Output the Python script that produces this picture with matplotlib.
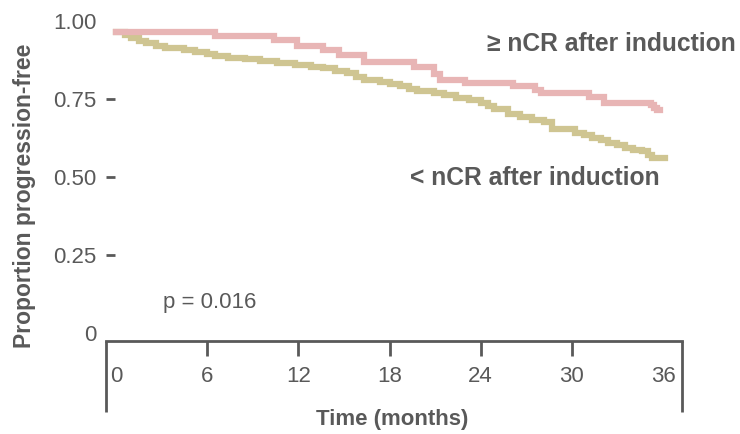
import matplotlib.pyplot as plt
from matplotlib.ticker import FixedLocator

plt.rcParams['font.family'] = ['Liberation Sans', 'DejaVu Sans']

# ---------- Kaplan-Meier step data (months, proportion progression-free) ----------
ncr_months = [0, 6.5, 10.4, 11.9, 13.6, 14.7, 16.3, 19.6, 20.9, 21.3, 23.0, 26.1,
              27.6, 28.0, 31.1, 32.1, 35.2, 35.4, 35.6, 35.8]
ncr_pfs = [0.963, 0.950, 0.938, 0.920, 0.906, 0.890, 0.867, 0.851, 0.829, 0.810, 0.802, 0.791,
           0.778, 0.768, 0.756, 0.737, 0.730, 0.722, 0.714, 0.714]

lt_months = [0, 0.6, 1.0, 1.5, 2.0, 2.6, 3.2, 4.5, 5.2, 6.0, 6.5, 7.4, 8.5, 9.5, 10.6, 11.8,
             12.8, 13.6, 14.4, 15.2, 15.8, 16.3, 17.4, 18.0, 18.7, 19.3, 19.8, 20.9, 21.6,
             22.4, 23.2, 24.0, 24.5, 24.9, 25.8, 26.6, 27.4, 28.2, 28.7, 30.2, 30.8, 31.3,
             31.9, 32.4, 33.0, 33.5, 34.0, 34.6, 35.0, 35.3, 36.1]
lt_pfs = [0.963, 0.955, 0.945, 0.935, 0.928, 0.918, 0.912, 0.907, 0.900, 0.892, 0.887, 0.882,
          0.877, 0.870, 0.865, 0.858, 0.853, 0.848, 0.840, 0.832, 0.820, 0.810, 0.805, 0.798,
          0.791, 0.783, 0.775, 0.768, 0.761, 0.754, 0.745, 0.736, 0.727, 0.718, 0.702, 0.692,
          0.683, 0.676, 0.653, 0.642, 0.634, 0.626, 0.618, 0.610, 0.602, 0.594, 0.588, 0.583,
          0.572, 0.562, 0.561]

x_ticks = [0, 6, 12, 18, 24, 30, 36]
y_ticks = [0, 0.25, 0.50, 0.75, 1.00]
y_tick_labels = ['0', '0.25', '0.50', '0.75', '1.00']

grey = '#595959'
pink = '#E8B5B5'
olive = '#CFC592'

fig = plt.figure(figsize=(7.4, 4.34), dpi=100)
ax = fig.add_axes([106 / 740, 93 / 434, 576 / 740, 331 / 434])

ax.step(lt_months, lt_pfs, where='post', color=olive, lw=4.5, solid_joinstyle='miter')
ax.step(ncr_months, ncr_pfs, where='post', color=pink, lw=4.5, solid_joinstyle='miter')

ax.set_xlim(-0.66, 37.25)
ax.set_ylim(-0.024, 1.034)

# ---------- Spines and ticks ------------------------------------------------------------
for side in ['top', 'right', 'left']:
    ax.spines[side].set_visible(False)
ax.spines['bottom'].set_color(grey)
ax.spines['bottom'].set_linewidth(2)

# end bars hanging below the time axis
for xa in [0, 1]:
    ax.plot([xa, xa], [0, -0.215], transform=ax.transAxes, color=grey, lw=2,
            clip_on=False, solid_capstyle='butt')

# labels on the major ticks, marks on the minor ones (kept even where they coincide)
ax.xaxis.remove_overlapping_locs = False
ax.yaxis.remove_overlapping_locs = False

ax.set_xticks(x_ticks)
ax.set_xticklabels([str(t) for t in x_ticks])
ax.xaxis.set_minor_locator(FixedLocator(x_ticks[1:-1]))
ax.tick_params(axis='x', which='major', length=0, pad=18, labelsize=16, labelcolor=grey)
ax.tick_params(axis='x', which='minor', length=11, width=2, color=grey, direction='out')

ax.set_yticks(y_ticks)
ax.set_yticklabels(y_tick_labels)
ax.yaxis.set_minor_locator(FixedLocator([0.25, 0.50, 0.75]))
ax.tick_params(axis='y', which='major', length=0, pad=7, labelsize=16, labelcolor=grey)
ax.tick_params(axis='y', which='minor', length=6.5, width=2, color=grey, direction='in')

# ---------- Labels ------------------------------------------------------------------------
fig.text(25 / 740, 1 - 196 / 434, 'Proportion progression-free', rotation=90,
         ha='center', va='center', fontsize=16.5, fontweight='bold', color=grey)
fig.text(392 / 740, 1 - 420 / 434, 'Time (months)', ha='center', va='center',
         fontsize=16, fontweight='bold', color=grey)

ax.text(24.4, 0.925, '≥ nCR after induction', ha='left', va='center',
        fontsize=17.7, fontweight='bold', color=grey)
ax.text(19.35, 0.496, '< nCR after induction', ha='left', va='center',
        fontsize=17.7, fontweight='bold', color=grey)
ax.text(3.1, 0.10, 'p = 0.016', ha='left', va='center', fontsize=16, color=grey)

fig.savefig('out.png', dpi=100)
